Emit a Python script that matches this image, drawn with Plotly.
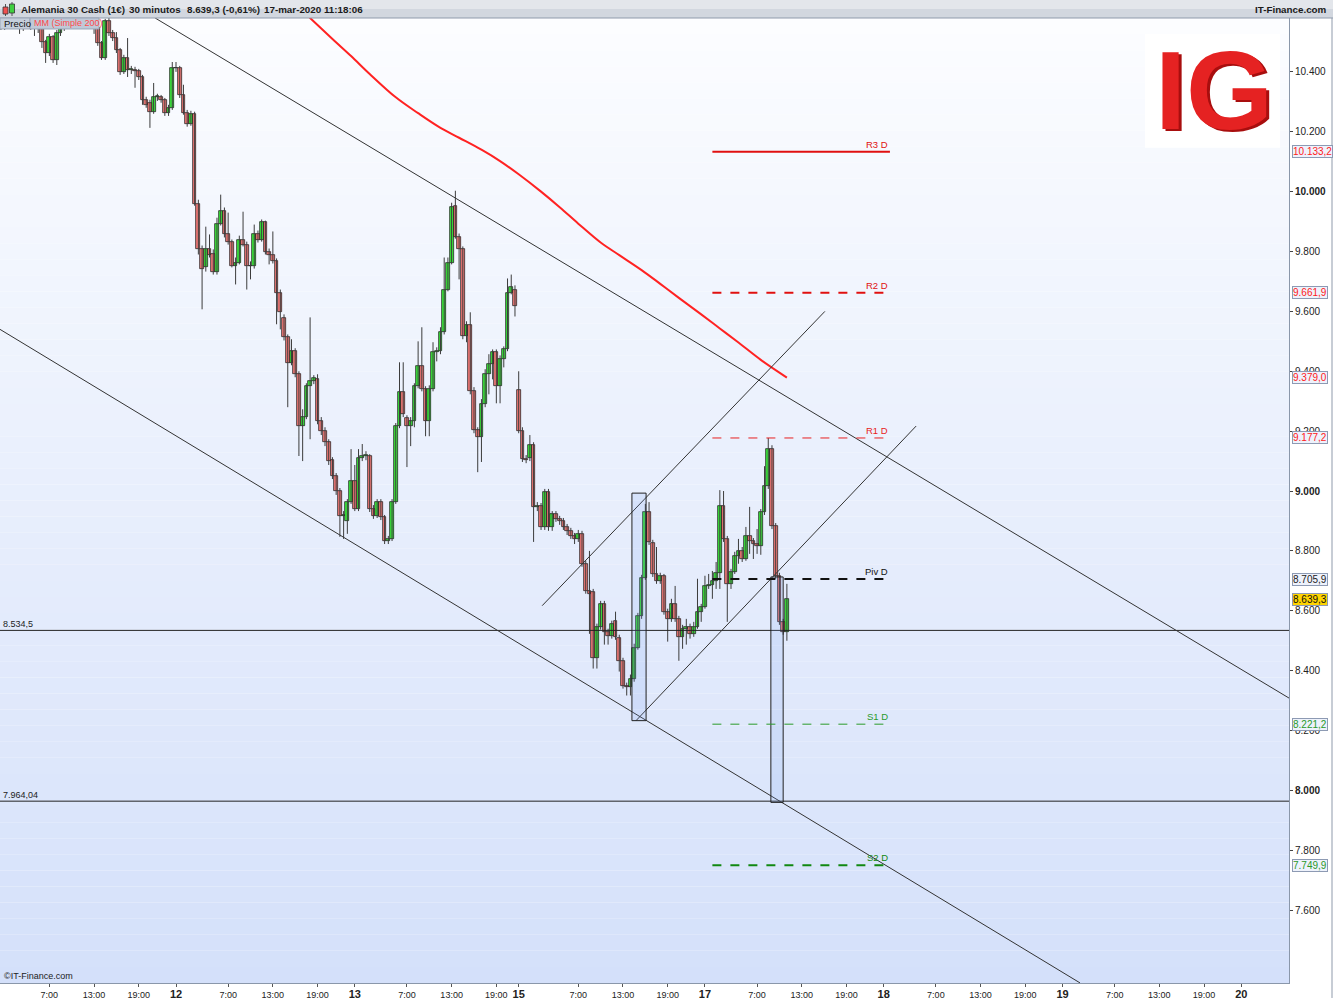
import plotly.graph_objects as go
import pandas as pd

# ---------------- DATA ----------------
opens = [10547,10553,10567,10557,10573,10580,10563,10550,10560,10573,10560,10547,10553,10500,10463,10517,10440,10530,10547,10560,
         10573,10583,10593,10580,10567,10577,10567,10547,10497,10447,10570,10530,10513,10473,10400,10447,10407,10407,10403,10383,
         10307,10297,10267,10317,10317,10307,10263,10280,10413,10413,10323,10263,10227,10260,9960,9807,9747,9807,9793,9733,
         9893,9937,9857,9833,9753,9763,9840,9823,9753,9750,9860,9840,9897,9800,9790,9767,9663,9577,9513,9427,
         9467,9390,9217,9247,9350,9367,9373,9233,9200,9163,9103,9050,9000,8917,8900,8963,9033,8940,9110,9117,
         9117,8940,8917,8963,8913,8833,8840,8963,9217,9330,9243,9217,9233,9350,9417,9340,9233,9340,9463,9467,
         9530,9673,9763,9953,9850,9807,9517,9553,9333,9203,9180,9290,9390,9423,9463,9350,9440,9473,9663,9673,
         9337,9200,9107,9110,9153,8947,8950,8880,8997,8880,8923,8907,8900,8880,8867,8850,8840,8857,8757,8667,
         8663,8443,8547,8623,8530,8517,8567,8510,8433,8350,8347,8373,8477,8583,8710,8930,8827,8723,8700,8717,
         8597,8573,8623,8573,8513,8540,8547,8523,8547,8597,8613,8683,8687,8700,8727,8950,8840,8690,8730,8783,
         8800,8773,8850,8833,8823,8817,8930,9017,9140,8883,8717,8563,8530]
highs = [10573,10580,10583,10587,10593,10590,10573,10573,10587,10583,10570,10567,10560,10507,10527,10523,10540,10557,10573,10587,
         10597,10607,10603,10590,10590,10587,10580,10553,10503,10577,10587,10540,10533,10480,10457,10513,10420,10417,10410,10390,
         10317,10307,10363,10327,10323,10313,10290,10433,10433,10420,10357,10273,10270,10267,9973,9820,9883,9857,9807,9913,
         9990,9947,9930,9840,9780,9853,9933,9833,9767,9890,9870,9907,9903,9810,9867,9777,9673,9590,9523,9507,
         9477,9400,9273,9360,9580,9387,9390,9247,9213,9173,9113,9060,9010,8933,8973,9140,9087,9140,9157,9133,
         9123,8953,8973,8973,8920,8850,8973,9227,9430,9430,9253,9247,9360,9500,9547,9350,9353,9497,9480,9547,
         9780,9780,9963,10003,9860,9817,9567,9597,9347,9213,9307,9407,9457,9473,9473,9453,9483,9710,9723,9687,
         9400,9213,9120,9187,9163,8963,8960,9007,9007,8933,8933,8917,8910,8890,8877,8860,8870,8867,8767,8800,
         8673,8557,8633,8633,8540,8567,8597,8520,8443,8360,8387,8490,8593,8720,8957,8963,8837,8813,8727,8723,
         8607,8640,8683,8583,8553,8573,8557,8563,8707,8623,8717,8723,8733,8763,9003,9000,8850,8740,8797,8840,
         8813,8880,8947,8843,8873,8940,9083,9177,9153,8893,8727,8573,8690]
lows = [10533,10540,10540,10547,10557,10547,10527,10537,10547,10540,10520,10530,10480,10430,10453,10430,10423,10520,10537,10547,
        10560,10570,10567,10550,10553,10547,10527,10487,10440,10440,10520,10503,10463,10390,10393,10383,10393,10347,10373,10290,
        10280,10213,10260,10303,10297,10253,10253,10273,10400,10313,10257,10217,10220,9953,9790,9607,9733,9780,9723,9723,
        9887,9847,9823,9747,9690,9757,9817,9673,9707,9743,9830,9833,9790,9757,9760,9557,9540,9503,9280,9420,
        9380,9117,9100,9240,9173,9357,9223,9187,9150,9087,9040,8987,8847,8840,8857,8957,8933,8933,9100,9103,
        8930,8907,8910,8903,8823,8823,8833,8957,9210,9247,9080,9150,9213,9343,9333,9183,9183,9333,9433,9457,
        9523,9667,9757,9843,9707,9507,9497,9323,9193,9063,9097,9280,9323,9373,9293,9293,9413,9467,9657,9583,
        9193,9097,9093,9100,8830,8933,8870,8870,8867,8867,8897,8887,8870,8853,8840,8823,8830,8747,8657,8523,
        8407,8407,8537,8487,8487,8507,8503,8397,8340,8317,8317,8363,8470,8573,8703,8820,8713,8690,8690,8587,
        8497,8563,8563,8433,8473,8487,8507,8513,8540,8563,8607,8673,8640,8673,8673,8830,8563,8673,8723,8757,
        8763,8767,8790,8773,8790,8787,8920,9007,8873,8707,8553,8520,8500]
closes = [10553,10567,10557,10573,10580,10563,10550,10560,10573,10560,10547,10553,10500,10463,10517,10440,10530,10547,10560,10573,
          10583,10593,10580,10567,10577,10567,10547,10497,10447,10570,10530,10513,10473,10400,10447,10407,10407,10403,10383,10307,
          10290,10267,10317,10317,10307,10263,10280,10413,10413,10323,10263,10227,10260,9960,9807,9740,9807,9790,9733,9893,
          9937,9857,9833,9753,9763,9840,9823,9753,9750,9860,9840,9897,9800,9790,9767,9663,9597,9513,9427,9467,
          9390,9217,9247,9350,9367,9377,9233,9200,9163,9100,9050,9000,8917,8920,8963,9033,8940,9110,9117,9120,
          8940,8917,8963,8913,8833,8840,8963,9217,9330,9257,9217,9233,9350,9417,9340,9233,9340,9463,9467,9530,
          9673,9763,9950,9850,9807,9517,9553,9333,9203,9180,9290,9390,9423,9463,9350,9440,9473,9663,9680,9617,
          9200,9107,9103,9153,8947,8950,8880,8997,8880,8923,8907,8900,8880,8867,8850,8840,8857,8757,8667,8657,
          8443,8547,8623,8530,8517,8557,8513,8433,8350,8347,8373,8477,8583,8710,8930,8830,8723,8700,8717,8597,
          8573,8623,8573,8513,8540,8547,8523,8547,8597,8613,8683,8687,8700,8727,8950,8840,8690,8730,8783,8800,
          8773,8850,8833,8823,8817,8930,9017,9140,8883,8717,8563,8530,8639.3]

# moving average (Simple 200) sampled at bar numbers
ma_bars = [79, 84, 90, 95, 100, 107, 113, 119, 124, 130, 135, 140, 146, 151, 156, 162, 167, 173, 178, 183, 189, 194, 199, 205, 212]
ma_values = [10640, 10580, 10510, 10453, 10393, 10315, 10262, 10213, 10180, 10140, 10102, 10058, 10000, 9948, 9893,
             9830, 9788, 9738, 9692, 9645, 9590, 9543, 9496, 9438, 9379.0]

# pivot levels
pivot_names = ["R3 D", "R2 D", "R1 D", "Piv D", "S1 D", "S2 D"]
pivot_values = [10133.2, 9661.9, 9177.2, 8705.9, 8221.2, 7749.9]
pivot_colors = ["#e01010", "#e01010", "#e82020", "#111111", "#2a9a2a", "#118811"]
pivot_dash = ["solid", "dash", "dash", "dash", "dash", "dash"]
pivot_width = [2, 2, 1, 2, 1, 2]

# horizontal support levels (left labels)
hlevels = [8534.5, 7964.04]
hlevel_labels = ["8.534,5", "7.964,04"]

# trendlines: (bar0, price0, bar1, price1)
trendlines = [(42.4, 10580, 347.0, 8307), (0.75, 9540, 290.7, 7357),
              (146.3, 8617, 222.2, 9600), (171.5, 8233, 246.7, 9217)]
boxes = [(170.4, 8993, 174.2, 8233), (207.7, 8713, 211.0, 7960)]

# right-axis value boxes
vbox_text = ["10.133,2", "9.661,9", "9.379,0", "9.177,2", "8.705,9", "8.639,3", "8.221,2", "7.749,9"]
vbox_value = [10133.2, 9661.9, 9379.0, 9177.2, 8705.9, 8639.3, 8221.2, 7749.9]
vbox_color = ["#ff2020", "#ff2020", "#ff2020", "#ff2020", "#222222", "#111111", "#2a9a2a", "#2a9a2a"]
vbox_bg = ["#eef2fc"] * 5 + ["#ffd400"] + ["#eef2fc"] * 2

y_ticks = [7600, 7800, 8000, 8200, 8400, 8600, 8800, 9000, 9200, 9400, 9600, 9800, 10000, 10200, 10400]
y_ticktext = ["7.600", "7.800", "<b>8.000</b>", "8.200", "8.400", "8.600", "8.800", "<b>9.000</b>", "9.200",
              "9.400", "9.600", "9.800", "<b>10.000</b>", "10.200", "10.400"]

x_tick_times = ["2020-03-11 07:00", "2020-03-11 13:00", "2020-03-11 19:00", "2020-03-12 00:00",
                "2020-03-12 07:00", "2020-03-12 13:00", "2020-03-12 19:00", "2020-03-13 00:00",
                "2020-03-13 07:00", "2020-03-13 13:00", "2020-03-13 19:00", "2020-03-15 23:00",
                "2020-03-16 07:00", "2020-03-16 13:00", "2020-03-16 19:00", "2020-03-17 00:00",
                "2020-03-17 07:00", "2020-03-17 13:00", "2020-03-17 19:00", "2020-03-18 00:00",
                "2020-03-18 07:00", "2020-03-18 13:00", "2020-03-18 19:00", "2020-03-19 00:00",
                "2020-03-19 07:00", "2020-03-19 13:00", "2020-03-19 19:00", "2020-03-20 00:00"]
x_tick_labels = ["7:00", "13:00", "19:00", "12", "7:00", "13:00", "19:00", "13", "7:00", "13:00", "19:00", "15",
                 "7:00", "13:00", "19:00", "17", "7:00", "13:00", "19:00", "18", "7:00", "13:00", "19:00", "19",
                 "7:00", "13:00", "19:00", "20"]

# ---------------- TIME AXIS (trading time, weekend removed) ----------------
session1 = pd.date_range("2020-03-11 00:00", "2020-03-13 21:30", freq="30min")
session2 = pd.date_range("2020-03-15 23:00", "2020-03-17 11:00", freq="30min")
bar_times = list(session1) + list(session2)
T0 = pd.Timestamp("2020-03-11 00:00")
GAP_END = pd.Timestamp("2020-03-15 23:00")
HALF = pd.Timedelta("30min")


def tx(ts):
    ts = pd.Timestamp(ts)
    if ts >= GAP_END:
        return len(session1) + (ts - GAP_END) / HALF
    return (ts - T0) / HALF


xb = [tx(t) for t in bar_times]
tickvals = [tx(t) for t in x_tick_times]
ticktext = [("<b><span style='font-size:11px'>%s</span></b>" % s) if ":" not in s else s for s in x_tick_labels]

# ---------------- FIGURE GEOMETRY ----------------
W, H = 1333, 1000
PL, PR, PT, PB = 0, 1289, 18, 985


def pxx(x):
    return (x - PL) / (PR - PL)


def pyy(y):
    return (PB - y) / (PB - PT)


fig = go.Figure()

# wicks
wx, wy = [], []
for x, h, l in zip(xb, highs, lows):
    wx += [x, x, None]
    wy += [l, h, None]
fig.add_trace(go.Scatter(x=wx, y=wy, mode="lines", line=dict(color="#3c3c3c", width=1),
                         hoverinfo="skip", showlegend=False))

# bodies
for up, color in [(True, "#3ce83c"), (False, "#f27a78")]:
    bx, bb, bh = [], [], []
    for x, o, c in zip(xb, opens, closes):
        if (c >= o) == up:
            bx.append(x)
            bb.append(min(o, c))
            bh.append(max(abs(c - o), 1.2))
    fig.add_trace(go.Bar(x=bx, y=bh, base=bb, width=1.0, marker=dict(color=color, line=dict(color="#111111", width=0.7)),
                         hoverinfo="skip", showlegend=False))

# moving average
fig.add_trace(go.Scatter(x=[xb[i] for i in ma_bars], y=ma_values, mode="lines",
                         line=dict(color="#ff2222", width=2, shape="spline", smoothing=1.0),
                         hoverinfo="skip", showlegend=False))

shapes = []
# background gradient
N = 60
top_c, bot_c = (252, 253, 255), (212, 224, 250)
for i in range(N):
    f = (i + 0.5) / N
    col = tuple(round(top_c[j] + (bot_c[j] - top_c[j]) * f) for j in range(3))
    shapes.append(dict(type="rect", xref="paper", yref="paper", x0=0, x1=1, y0=1 - (i + 1) / N, y1=1 - i / N,
                       fillcolor="rgb(%d,%d,%d)" % col, line=dict(width=0), layer="below"))

# horizontal levels
for v in hlevels:
    shapes.append(dict(type="line", xref="paper", yref="y", x0=0, x1=1, y0=v, y1=v,
                       line=dict(color="#222222", width=1)))

# trend lines
for (a0, p0, a1, p1) in trendlines:
    shapes.append(dict(type="line", xref="x", yref="y", x0=a0, y0=p0, x1=a1, y1=p1,
                       line=dict(color="#333333", width=1)))
# boxes
for (a0, p0, a1, p1) in boxes:
    shapes.append(dict(type="rect", xref="x", yref="y", x0=a0, y0=p0, x1=a1, y1=p1,
                       fillcolor="rgba(120,160,245,0.16)", line=dict(color="#222222", width=1)))

# pivots
piv_x0, piv_x1 = tx("2020-03-17 01:00"), tx("2020-03-18 00:50")
for v, c, d, w in zip(pivot_values, pivot_colors, pivot_dash, pivot_width):
    shapes.append(dict(type="line", xref="x", yref="y", x0=piv_x0, x1=piv_x1, y0=v, y1=v,
                       line=dict(color=c, width=w, dash=d)))

# header bar
shapes.append(dict(type="rect", xref="paper", yref="paper", x0=0, x1=pxx(W), y0=pyy(9), y1=pyy(0),
                   fillcolor="#e3e6eb", line=dict(width=0), layer="above"))
shapes.append(dict(type="rect", xref="paper", yref="paper", x0=0, x1=pxx(W), y0=pyy(18), y1=pyy(9),
                   fillcolor="#d2d7df", line=dict(width=0), layer="above"))
shapes.append(dict(type="line", xref="paper", yref="paper", x0=0, x1=pxx(W), y0=pyy(18), y1=pyy(18),
                   line=dict(color="#8f9aab", width=1), layer="above"))
# right frame edge
shapes.append(dict(type="line", xref="paper", yref="paper", x0=pxx(1332), x1=pxx(1332), y0=pyy(1000), y1=pyy(18),
                   line=dict(color="#8f9aab", width=1), layer="above"))
# header candle icon
shapes.append(dict(type="line", xref="paper", yref="paper", x0=pxx(5.5), x1=pxx(5.5), y0=pyy(16), y1=pyy(4),
                   line=dict(color="#555", width=1), layer="above"))
shapes.append(dict(type="rect", xref="paper", yref="paper", x0=pxx(3), x1=pxx(8), y0=pyy(14), y1=pyy(7),
                   fillcolor="#f05050", line=dict(color="#333", width=0.8), layer="above"))
shapes.append(dict(type="line", xref="paper", yref="paper", x0=pxx(12), x1=pxx(12), y0=pyy(16), y1=pyy(2),
                   line=dict(color="#555", width=1), layer="above"))
shapes.append(dict(type="rect", xref="paper", yref="paper", x0=pxx(9.5), x1=pxx(14.5), y0=pyy(13), y1=pyy(4),
                   fillcolor="#40d040", line=dict(color="#333", width=0.8), layer="above"))
# legend tabs
shapes.append(dict(type="rect", xref="paper", yref="paper", x0=pxx(0), x1=pxx(30), y0=pyy(29), y1=pyy(18),
                   fillcolor="#c6cfdc", line=dict(color="#9aa5b6", width=1), layer="above"))
shapes.append(dict(type="rect", xref="paper", yref="paper", x0=pxx(30), x1=pxx(99), y0=pyy(29), y1=pyy(18),
                   fillcolor="#bfc9d8", line=dict(color="#9aa5b6", width=1), layer="above"))
# IG logo panel
shapes.append(dict(type="rect", xref="paper", yref="paper", x0=pxx(1145), x1=pxx(1280), y0=pyy(148), y1=pyy(34),
                   fillcolor="white", line=dict(width=0), layer="above"))

annotations = []
FONT = "Liberation Sans, Arial, sans-serif"
hdr = [("Alemania 30 Cash (1€)", 19), ("30 minutos", 127), ("8.639,3 (-0,61%)", 185), ("17-mar-2020 11:18:06", 262)]
for t, x in hdr:
    annotations.append(dict(text="<b>%s</b>" % t, xref="paper", yref="paper", x=pxx(x), y=pyy(9), xanchor="left",
                            yanchor="middle", showarrow=False, font=dict(family=FONT, size=9.8, color="#1a1a1a")))
annotations.append(dict(text="<b>IT-Finance.com</b>", xref="paper", yref="paper", x=pxx(1329), y=pyy(9), xanchor="right",
                        yanchor="middle", showarrow=False, font=dict(family=FONT, size=9.8, color="#1a1a1a")))
annotations.append(dict(text="Precio", xref="paper", yref="paper", x=pxx(2), y=pyy(23.5), xanchor="left",
                        yanchor="middle", showarrow=False, font=dict(family=FONT, size=9.5, color="#111")))
annotations.append(dict(text="MM (Simple 200)", xref="paper", yref="paper", x=pxx(32), y=pyy(23.5), xanchor="left",
                        yanchor="middle", showarrow=False, font=dict(family=FONT, size=9, color="#ff4a4a")))
annotations.append(dict(text="©IT-Finance.com", xref="paper", yref="paper", x=pxx(2), y=pyy(978), xanchor="left",
                        yanchor="middle", showarrow=False, font=dict(family=FONT, size=9, color="#222")))
# IG logo letters
annotations.append(dict(text="<b>IG</b>", xref="paper", yref="paper", x=pxx(1217), y=pyy(93), xanchor="center",
                        yanchor="middle", showarrow=False, font=dict(family=FONT, size=112, color="#a80e0e")))
annotations.append(dict(text="<b>IG</b>", xref="paper", yref="paper", x=pxx(1214), y=pyy(91), xanchor="center",
                        yanchor="middle", showarrow=False, font=dict(family=FONT, size=112, color="#e52222")))

# left level labels
for v, t in zip(hlevels, hlevel_labels):
    annotations.append(dict(text=t, xref="paper", yref="y", x=pxx(1), y=v, xanchor="left", yanchor="bottom",
                            showarrow=False, font=dict(family=FONT, size=9, color="#222"), yshift=-1))
# pivot labels
for n, v, c in zip(pivot_names, pivot_values, pivot_colors):
    annotations.append(dict(text=n, xref="x", yref="y", x=piv_x1, y=v, xanchor="right", yanchor="bottom",
                            showarrow=False, font=dict(family=FONT, size=9.5, color=c), yshift=0))
# right-axis value boxes
for t, v, c, bg in zip(vbox_text, vbox_value, vbox_color, vbox_bg):
    annotations.append(dict(text=t, xref="paper", yref="y", x=pxx(1292), y=v, xanchor="left", yanchor="middle",
                            showarrow=False, font=dict(family=FONT, size=10, color=c), bgcolor=bg,
                            bordercolor="#8d9ab3", borderwidth=1, borderpad=0))

fig.update_layout(
    width=W, height=H, margin=dict(l=PL, r=W - PR, t=PT, b=H - PB),
    paper_bgcolor="white", plot_bgcolor="white", barmode="overlay", bargap=0,
    showlegend=False, shapes=shapes, annotations=annotations,
    font=dict(family=FONT, color="#222"),
    xaxis=dict(range=[0.75, 346.8], tickmode="array", tickvals=tickvals, ticktext=ticktext, showgrid=False,
               zeroline=False, ticks="outside", ticklen=3, tickcolor="#555", tickfont=dict(size=9, color="#222"),
               showline=True, linecolor="#8a97aa", linewidth=1),
    yaxis=dict(range=[7356.7, 10580], side="right", tickmode="array", tickvals=y_ticks, ticktext=y_ticktext,
               showgrid=False, zeroline=False, ticks="outside", ticklen=3, tickcolor="#444",
               tickfont=dict(size=10, color="#222"), showline=True, linecolor="#8a97aa", linewidth=1),
)

fig.write_html("out.html", config={"displayModeBar": False},
               post_script="document.body.style.margin='0';document.body.style.overflow='hidden';")
